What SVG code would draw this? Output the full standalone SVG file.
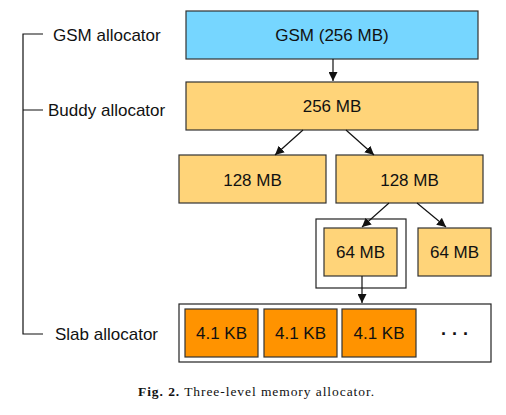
<svg xmlns="http://www.w3.org/2000/svg" width="506" height="415" viewBox="0 0 506 415">
<style>
.box{stroke:#333;stroke-width:1.2}
.blue{fill:#76D6FF}
.lt{fill:#FFD479}
.or{fill:#FF9300}
.frame{fill:#fff;stroke:#222;stroke-width:1.2}
.t{font-family:"Liberation Sans",Arial,sans-serif;font-size:17px;fill:#111;text-anchor:middle;dominant-baseline:central}
.lab{font-family:"Liberation Sans",Arial,sans-serif;font-size:17px;fill:#111;dominant-baseline:central}
.c{stroke:#111;stroke-width:1.2;fill:none}
.cap{font-family:"Liberation Serif","Times New Roman",serif;font-size:13.5px;fill:#111}
</style>
<defs>
<marker id="ah" viewBox="0 0 10 10" refX="10" refY="5" markerWidth="9" markerHeight="9" markerUnits="userSpaceOnUse" orient="auto">
<path d="M0,0 L10,5 L0,10 z" fill="#111"/>
</marker>
</defs>
<g id="levels">
<path class="c" d="M43,34 H23 V334 H43 M23,110 H43"/>
<text class="lab" x="53" y="35">GSM allocator</text>
<text class="lab" x="48" y="110">Buddy allocator</text>
<text class="lab" x="55" y="334">Slab allocator</text>
</g>
<g id="frame64"><rect class="frame" x="316" y="219" width="90" height="69"/></g>
<g id="slab"><rect class="frame" x="179" y="304" width="312" height="58"/></g>
<g id="gsm"><rect class="box blue" x="186" y="11" width="292" height="48"/><text class="t" x="332" y="35">GSM (256 MB)</text></g>
<g id="b256"><rect class="box lt" x="186" y="82" width="292" height="48"/><text class="t" x="332" y="106">256 MB</text></g>
<g id="b128a"><rect class="box lt" x="179" y="155" width="147" height="48"/><text class="t" x="252.5" y="180">128 MB</text></g>
<g id="b128b"><rect class="box lt" x="336" y="155" width="147" height="48"/><text class="t" x="409.5" y="180">128 MB</text></g>
<g id="b64a"><rect class="box lt" x="324" y="228" width="73" height="48"/><text class="t" x="360.5" y="252">64 MB</text></g>
<g id="b64b"><rect class="box lt" x="418" y="228" width="73" height="48"/><text class="t" x="454.5" y="252">64 MB</text></g>
<g id="k1"><rect class="box or" x="185" y="309" width="73" height="48"/><text class="t" x="221.5" y="333">4.1 KB</text></g>
<g id="k2"><rect class="box or" x="264" y="309" width="73" height="48"/><text class="t" x="300.5" y="333">4.1 KB</text></g>
<g id="k3"><rect class="box or" x="342" y="309" width="74" height="48"/><text class="t" x="379" y="333">4.1 KB</text></g>
<g id="dots"><text x="441" y="335" style="font-family:'Liberation Sans',Arial,sans-serif;font-size:18px;font-weight:bold;letter-spacing:6px;fill:#111">...</text></g>
<g id="connectors">
<line class="c" x1="333" y1="59" x2="333" y2="81" marker-end="url(#ah)"/>
<line class="c" x1="303" y1="130" x2="275" y2="155" marker-end="url(#ah)"/>
<line class="c" x1="346" y1="130" x2="374" y2="155" marker-end="url(#ah)"/>
<line class="c" x1="389" y1="203" x2="362" y2="227" marker-end="url(#ah)"/>
<line class="c" x1="417" y1="203" x2="446" y2="227" marker-end="url(#ah)"/>
<line class="c" x1="362" y1="276" x2="362" y2="303" marker-end="url(#ah)"/>
</g>
<text class="cap" x="138" y="396" textLength="236" lengthAdjust="spacing"><tspan font-weight="bold">Fig. 2.</tspan>  Three-level memory allocator.</text>
</svg>
